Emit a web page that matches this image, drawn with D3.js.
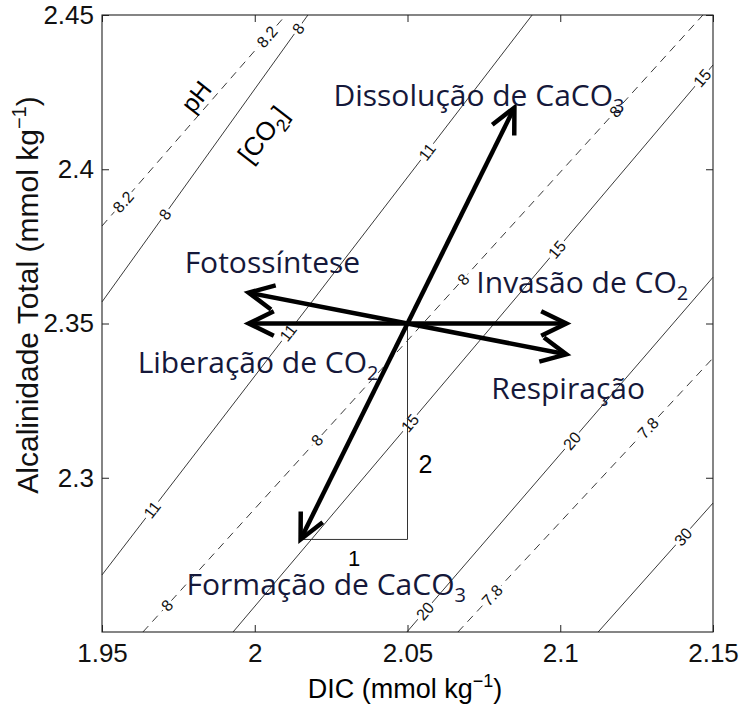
<!DOCTYPE html>
<html>
<head>
<meta charset="utf-8">
<script src="https://cdn.jsdelivr.net/npm/d3@7/dist/d3.min.js"></script>
<style>
body{margin:0;background:#fff;}
</style>
</head>
<body>
<div id="canvas"></div>
<script>
// ticks dos eixos
var xTicks = [1.95, 2, 2.05, 2.1, 2.15];
var yTicks = [2.3, 2.35, 2.4, 2.45];

// isolinhas de [CO2] (linhas cheias), extremos [DIC, TA]
var co2Levels = ['8', '11', '15', '20', '30'];
var co2Lines = [
  [[1.95, 2.357], [2.0174, 2.45]],
  [[1.95, 2.2685], [2.0908, 2.45]],
  [[1.9929, 2.25], [2.15, 2.4338]],
  [[2.0498, 2.25], [2.15, 2.365]],
  [[2.1124, 2.25], [2.15, 2.2918]]
];
var co2LabelDIC = [[1.9706, 2.0142], [1.9664, 2.0109, 2.0564], [2.0508, 2.0989, 2.1464], [2.0557, 2.1038], [2.1402]];

// isolinhas de pH (tracejadas)
var phLevels = ['8.2', '8', '7.8'];
var phLines = [
  [[1.95, 2.3816], [2.0102, 2.45]],
  [[1.9634, 2.25], [2.1467, 2.45]],
  [[2.0665, 2.25], [2.15, 2.3388]]
];
var phLabelDIC = [[1.9569, 2.004], [1.9713, 2.0204, 2.0682, 2.118], [2.0777, 2.1287]];

// vetores dos processos, saindo da origem
var origin = [2.05, 2.35];
var processNames = ['Dissolução de CaCO3', 'Formação de CaCO3', 'Fotossíntese', 'Liberação de CO2', 'Invasão de CO2', 'Respiração'];
var processDIC = [2.085, 2.015, 1.998, 1.998, 2.102, 2.102];
var processTA = [2.42, 2.28, 2.36, 2.35, 2.35, 2.34];

// triangulo 1:2
var triangle = [[2.015, 2.28], [2.05, 2.28], [2.05, 2.35]];

var m = {t:15, r:28, b:75, l:102};
var outerWidth = 741, outerHeight = 707;
var w = 741 - m.l - m.r,
    h = 707 - m.t - m.b;

var svg = d3.select('#canvas')
    .append('svg')
    .attr('width', outerWidth)
    .attr('height', outerHeight);
var plot = svg.append('g')
    .attr('transform', 'translate(' + m.l + ',' + m.t + ')');

var scaleX = d3.scaleLinear().domain([1.95, 2.15]).range([0, w]);
var scaleY = d3.scaleLinear().domain([2.25, 2.45]).range([h, 0]);

var axisFont = '"Liberation Sans", Arial, Helvetica, sans-serif';
var noteFont = '"Open Sans", "Noto Sans", sans-serif';

var line = d3.line()
    .x(function(d){ return scaleX(d[0]); })
    .y(function(d){ return scaleY(d[1]); });

// contornos
function drawContours(lines, levels, labelDIC, dashed) {
  lines.forEach(function(seg, i){
    plot.append('path')
        .attr('d', line(seg))
        .attr('fill', 'none')
        .attr('stroke', '#222')
        .attr('stroke-width', 0.9)
        .attr('stroke-dasharray', dashed ? '8,6' : null);

    var x1 = scaleX(seg[0][0]), y1 = scaleY(seg[0][1]),
        x2 = scaleX(seg[1][0]), y2 = scaleY(seg[1][1]);
    var ang = Math.atan2(y2 - y1, x2 - x1) * 180 / Math.PI;

    labelDIC[i].forEach(function(dic){
      var t = (dic - seg[0][0]) / (seg[1][0] - seg[0][0]);
      var ta = seg[0][1] + t * (seg[1][1] - seg[0][1]);
      var g = plot.append('g')
          .attr('transform', 'translate(' + scaleX(dic) + ',' + scaleY(ta) + ') rotate(' + ang + ')');
      var txt = g.append('text')
          .text(levels[i])
          .attr('text-anchor', 'middle')
          .attr('dy', '0.36em')
          .style('font-family', axisFont)
          .style('font-size', '16px')
          .attr('fill', '#111');
      var bw = txt.node().getComputedTextLength() + 4;
      g.insert('rect', 'text')
          .attr('x', -bw / 2).attr('y', -5)
          .attr('width', bw).attr('height', 10)
          .attr('fill', '#fff');
    });
  });
}
drawContours(co2Lines, co2Levels, co2LabelDIC, false);
drawContours(phLines, phLevels, phLabelDIC, true);

// triangulo
plot.append('path')
    .attr('d', line(triangle))
    .attr('fill', 'none')
    .attr('stroke', '#333')
    .attr('stroke-width', 1);

plot.append('text').text('1')
    .attr('x', (scaleX(triangle[0][0]) + scaleX(triangle[1][0])) / 2)
    .attr('y', scaleY(triangle[0][1]) + 27)
    .attr('text-anchor', 'middle')
    .style('font-family', axisFont).style('font-size', '22px');
plot.append('text').text('2')
    .attr('x', scaleX(triangle[1][0]) + 11)
    .attr('y', scaleY(triangle[1][1]) - 66)
    .style('font-family', axisFont).style('font-size', '25px');

// "pH" e "[CO2]"
plot.append('text').text('pH')
    .attr('transform', 'translate(' + (203 - m.l) + ',' + (102 - m.t) + ') rotate(-52)')
    .attr('text-anchor', 'middle')
    .style('font-family', axisFont).style('font-size', '25px');
var co2t = plot.append('text')
    .attr('transform', 'translate(' + (270 - m.l) + ',' + (140 - m.t) + ') rotate(-52)')
    .attr('text-anchor', 'middle')
    .style('font-family', axisFont).style('font-size', '26px');
co2t.append('tspan').text('[CO');
co2t.append('tspan').text('2').attr('dy', 7).style('font-size', '18px');
co2t.append('tspan').text(']').attr('dy', -7);

// setas
var labelOffset = [[-181, -2], [-114, 56], [-64, -20], [-111, 49], [-90, -31], [-75, 45]];
var ox = scaleX(origin[0]), oy = scaleY(origin[1]);

processNames.forEach(function(name, i){
  var tx = scaleX(processDIC[i]), ty = scaleY(processTA[i]);
  var a = Math.atan2(ty - oy, tx - ox);
  var L = 28, phi = 26 * Math.PI / 180;

  plot.append('line')
      .attr('x1', ox).attr('y1', oy)
      .attr('x2', tx - 3 * Math.cos(a)).attr('y2', ty - 3 * Math.sin(a))
      .attr('stroke', '#000')
      .attr('stroke-width', 4.5);

  var head = [
    [tx - L * Math.cos(a - phi), ty - L * Math.sin(a - phi)],
    [tx, ty],
    [tx - L * Math.cos(a + phi), ty - L * Math.sin(a + phi)]
  ];
  plot.append('path')
      .attr('d', d3.line()(head))
      .attr('fill', 'none')
      .attr('stroke', '#000')
      .attr('stroke-width', 4.5)
      .attr('stroke-linejoin', 'miter');

  var sub = name.match(/(\d)$/);
  var label = plot.append('text')
      .attr('x', tx + labelOffset[i][0])
      .attr('y', ty + labelOffset[i][1])
      .style('font-family', noteFont)
      .style('font-size', '30px')
      .attr('fill', '#15183a');
  label.append('tspan').text(sub ? name.slice(0, -1) : name);
  if (sub) {
    label.append('tspan').text(sub[1])
        .attr('dy', 7)
        .style('font-size', '20px');
  }
});

// eixos com ticks para dentro (estilo MATLAB)
var fmt = function(d){ return d3.format('')(+d.toFixed(2)); };

plot.append('g')
    .attr('transform', 'translate(0,' + h + ')')
    .call(d3.axisBottom(scaleX).tickValues(xTicks).tickFormat(fmt).tickSize(-7).tickPadding(12));
plot.append('g')
    .call(d3.axisTop(scaleX).tickValues(xTicks).tickFormat('').tickSize(-7));
plot.append('g')
    .call(d3.axisLeft(scaleY).tickValues(yTicks).tickFormat(fmt).tickSize(-7).tickPadding(8));
plot.append('g')
    .attr('transform', 'translate(' + w + ',0)')
    .call(d3.axisRight(scaleY).tickValues(yTicks).tickFormat('').tickSize(-7));

plot.selectAll('.domain').remove();
plot.selectAll('.tick line').attr('stroke', '#222');
plot.selectAll('.tick text')
    .style('font-family', axisFont)
    .style('font-size', '26px')
    .attr('fill', '#111');

plot.append('rect')
    .attr('width', w).attr('height', h)
    .attr('fill', 'none')
    .attr('stroke', '#222')
    .attr('stroke-width', 1.1);

// titulos dos eixos
var xl = svg.append('text')
    .attr('x', 405).attr('y', 698)
    .attr('text-anchor', 'middle')
    .style('font-family', axisFont).style('font-size', '27px');
xl.append('tspan').text('DIC (mmol kg');
xl.append('tspan').text('\u22121').attr('dy', -11).style('font-size', '18px');
xl.append('tspan').text(')').attr('dy', 11);

var yl = svg.append('text')
    .attr('transform', 'translate(38,295) rotate(-90)')
    .attr('text-anchor', 'middle')
    .style('font-family', axisFont).style('font-size', '30px')
    .attr('fill', '#111');
yl.append('tspan').text('Alcalinidade Total (mmol kg');
yl.append('tspan').text('\u22121').attr('dy', -12).style('font-size', '20px');
yl.append('tspan').text(')').attr('dy', 12);
</script>
</body>
</html>
